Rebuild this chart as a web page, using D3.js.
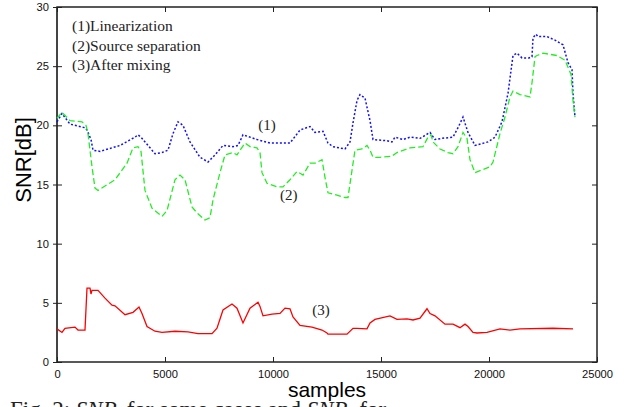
<!DOCTYPE html>
<html><head><meta charset="utf-8">
<script src="https://cdn.jsdelivr.net/npm/d3@7"></script>
<style>body{margin:0;background:#fff}svg{display:block}</style>
</head><body>
<svg id="c" width="630" height="407"></svg>
<script>
// samples (x) and SNR [dB] (y) for each curve
const linX = [0,231,602,1296,1389,1574,1667,1991,2917,3611,3750,3889,4537,4861,5139,5370,5602,5833,6157,6620,6991,7315,7685,8148,8380,8611,9259,9861,10787,11250,11713,11944,12315,12546,12778,13333,13565,13704,13889,14028,14259,14491,14630,15278,15509,15648,16019,16343,16806,17269,17500,17824,18333,18565,18796,19028,19352,19954,20278,20602,20880,21111,21296,21528,21852,21991,22037,22176,22269,22685,23056,23426,23657,23843,23889,23981];
const linY = [20.3,21.0,20.1,19.8,19.6,18.8,17.9,17.8,18.3,19.0,19.2,19.0,17.6,17.7,17.9,19.3,20.3,20.0,18.6,17.3,16.9,17.5,18.3,18.2,18.3,19.2,18.8,18.5,18.5,19.6,19.9,19.4,19.5,18.5,18.2,18.0,18.6,20.2,22.1,22.6,22.3,20.4,18.8,18.7,18.6,19.0,18.8,19.0,18.9,19.4,18.8,18.9,19.0,19.8,20.7,19.4,18.3,18.6,19.0,20.3,22.7,25.9,26.1,25.7,25.7,25.8,27.4,27.7,27.5,27.5,27.2,26.8,25.3,24.7,22.7,20.7];

const sepX = [0,231,602,1157,1343,1435,1620,1759,1898,2685,3241,3519,3750,3889,4074,4398,4861,5093,5463,5694,5926,6250,6481,6852,7083,7222,7546,7778,8148,8333,8472,8704,8935,9259,9398,9491,9722,10185,10463,10787,11111,11389,11713,11944,12269,12407,12546,12963,13333,13472,13657,13796,14120,14352,14491,14630,14954,15509,15741,16343,16944,17176,17315,17407,17731,18102,18333,18565,18796,18981,19120,19352,20046,20185,20509,20741,20972,21111,21435,21898,21991,22130,22222,22500,23148,23519,23657,23796,23889,23981];
const sepY = [20.6,21.1,20.4,20.3,20.0,19.3,16.5,14.7,14.5,15.4,16.8,18.1,18.2,17.8,14.5,13.0,12.3,12.8,15.4,15.8,15.4,13.1,12.6,12.0,12.2,13.7,16.0,17.5,17.7,17.5,17.9,18.5,18.2,18.1,17.7,16.0,15.1,14.8,14.8,15.4,16.1,15.8,16.8,16.8,17.1,15.6,14.3,14.1,13.9,13.9,16.2,17.9,18.0,18.3,17.9,17.3,17.3,17.4,17.7,18.1,18.2,19.0,19.2,18.6,18.0,17.7,17.6,18.2,19.4,18.9,17.1,16.0,16.5,16.9,19.3,20.7,22.4,22.9,22.6,22.4,23.6,25.8,25.9,26.1,25.9,25.5,24.9,24.3,22.1,20.7];

const mixX = [0,231,370,833,972,1296,1389,1528,1574,1620,1898,2222,2546,2685,3148,3519,3796,3935,4167,4537,4861,5463,6065,6528,7176,7407,7685,8102,8333,8611,8935,9306,9398,9537,9954,10324,10556,10787,10926,11250,11806,12269,12500,12546,13426,13704,13889,14352,14491,14722,15417,15741,16204,16482,16806,17130,17269,17500,17963,18333,18657,18889,19028,19259,19444,19907,20509,20972,21435,22963,23889];
const mixY = [2.8,2.5,2.85,2.95,2.7,2.7,6.25,6.25,5.75,6.05,6.05,5.4,4.8,4.75,4.0,4.2,4.65,4.1,3.0,2.6,2.5,2.6,2.55,2.4,2.4,2.85,4.4,4.9,4.55,3.3,4.55,5.05,4.7,3.9,4.05,4.1,4.55,4.5,3.8,3.1,2.95,2.7,2.45,2.35,2.35,2.85,2.85,2.8,3.3,3.6,3.9,3.6,3.65,3.55,3.7,4.5,4.1,3.9,3.2,3.2,2.9,3.2,3.0,2.5,2.45,2.5,2.8,2.7,2.8,2.85,2.8];

const xTicks = [0,5000,10000,15000,20000,25000];
const yTicks = [0,5,10,15,20,25,30];
const legendLabels = ["(1)Linearization","(2)Source separation","(3)After mixing"];
const curveLabels = ["(1)","(2)","(3)"];
const curveLabelPos = [[9320,19.6],[10320,13.7],[11820,4.0]];

const svg = d3.select("#c");
const L=57,R=597,T=7,B=362;
const x = d3.scaleLinear().domain([0,25000]).range([L,R]);
const y = d3.scaleLinear().domain([0,30]).range([B,T]);
const sans = "'Liberation Sans', Arial, sans-serif";
const serif = "'Liberation Serif', 'Times New Roman', serif";

// frame
svg.append("rect").attr("x",L).attr("y",T).attr("width",R-L).attr("height",B-T)
  .attr("fill","none").attr("stroke","#222").attr("stroke-width",1.5);
svg.append("line").attr("x1",L).attr("x2",L).attr("y1",T).attr("y2",B).attr("stroke","#444").attr("stroke-width",2);

// axes
const ax = d3.axisBottom(x).tickValues(xTicks).tickSize(-5).tickPadding(8).tickFormat(d3.format("d"));
svg.append("g").attr("transform",`translate(0,${B})`).call(ax);
const axT = d3.axisTop(x).tickValues(xTicks).tickSize(-5).tickFormat("");
svg.append("g").attr("transform",`translate(0,${T})`).call(axT);
const ay = d3.axisLeft(y).tickValues(yTicks).tickSize(4).tickPadding(4).tickFormat(d3.format("d"));
const gy = svg.append("g").attr("transform",`translate(${L},0)`).call(ay);
gy.selectAll(".tick line").attr("x2",5).attr("x1",-4);
const ayR = d3.axisRight(y).tickValues(yTicks).tickSize(-5).tickFormat("");
svg.append("g").attr("transform",`translate(${R},0)`).call(ayR);
svg.selectAll(".domain").remove();
svg.selectAll(".tick line").attr("stroke","#222").attr("stroke-width",1);
svg.selectAll(".tick text").attr("font-family",sans).attr("font-size",11.2).attr("fill","#111");

// lines
const line = d3.line().x(d=>x(d[0])).y(d=>y(d[1]));
const series = [
  {xs:linX, ys:linY, color:"#1010ff", dash:"2,2", w:1.5},
  {xs:sepX, ys:sepY, color:"#22ee22", dash:"6,3", w:1.3},
  {xs:mixX, ys:mixY, color:"#ff0000", dash:null, w:1.3}
];
series.forEach(s=>{
  svg.append("path").datum(s.xs.map((v,i)=>[v,s.ys[i]]))
    .attr("d",line).attr("fill","none").attr("stroke",s.color)
    .attr("stroke-width",s.w).attr("stroke-dasharray",s.dash);
});

// legend text
legendLabels.forEach((t,i)=>{
  svg.append("text").attr("x",72).attr("y",31+i*19.5).text(t)
    .attr("font-family",serif).attr("font-size",15.5).attr("fill","#222");
});
curveLabels.forEach((t,i)=>{
  svg.append("text").attr("x",x(curveLabelPos[i][0])).attr("y",y(curveLabelPos[i][1])).text(t)
    .attr("font-family",serif).attr("font-size",15).attr("fill","#222");
});

// axis titles
svg.append("text").attr("transform","translate(31,160) rotate(-90)").attr("text-anchor","middle")
  .attr("font-family",sans).attr("font-size",22).text("SNR[dB]");
svg.append("text").attr("x",327).attr("y",397).attr("text-anchor","middle")
  .attr("font-family",sans).attr("font-size",21).text("samples");

// caption (cut at bottom)
const cap = svg.append("text").attr("x",10).attr("y",417).attr("font-family",serif).attr("font-size",23).attr("fill","#222");
cap.append("tspan").text("Fig. 2:  ");
cap.append("tspan").attr("font-style","italic").text("SNR");
cap.append("tspan").attr("font-size",15).attr("font-style","italic").attr("dy",3).text("l");
cap.append("tspan").attr("dy",-3).text(" for  some cases  and ");
cap.append("tspan").attr("font-style","italic").text("SNR");
cap.append("tspan").attr("font-size",15).attr("font-style","italic").attr("dy",3).text("s");
cap.append("tspan").attr("dy",-3).text(" for");
</script>
</body></html>
